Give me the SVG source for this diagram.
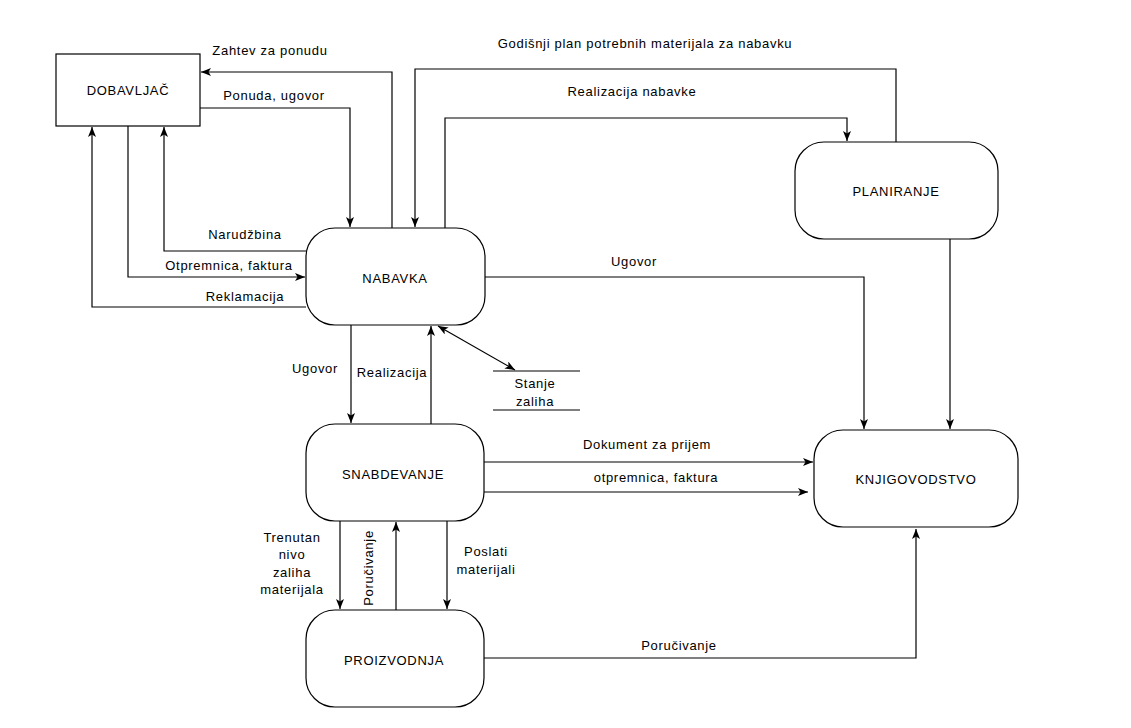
<svg xmlns="http://www.w3.org/2000/svg" width="1131" height="728" viewBox="0 0 1131 728">
  <style>
    .box { fill: #ffffff; stroke: #000000; stroke-width: 1.2; }
    .edge { fill: none; stroke: #000000; stroke-width: 1.2; }
    .arr { marker-end: url(#head); }
    text { font-family: "Liberation Sans", Arial, sans-serif; font-size: 13px; letter-spacing: 0.7px; fill: #000000; text-anchor: middle; }
  </style>
  <defs>
    <marker id="head" viewBox="0 0 10 8" refX="10" refY="4" markerWidth="10" markerHeight="8" markerUnits="userSpaceOnUse" orient="auto-start-reverse">
      <path d="M0,0 L10,4 L0,8 L2.5,4 z" fill="#000000"/>
    </marker>
  </defs>

  <rect width="1131" height="728" fill="#ffffff"/>

  <!-- connectors -->
  <g id="connectors">
    <!-- NABAVKA -> DOBAVLJAČ : Zahtev za ponudu -->
    <polyline class="edge arr" points="392,228 392,72 201,72"/>
    <!-- DOBAVLJAČ -> NABAVKA : Ponuda, ugovor -->
    <polyline class="edge arr" points="200,108 350,108 350,227"/>
    <!-- NABAVKA -> DOBAVLJAČ : Narudžbina -->
    <polyline class="edge arr" points="306,251 164,251 164,127"/>
    <!-- DOBAVLJAČ -> NABAVKA : Otpremnica, faktura -->
    <polyline class="edge arr" points="128,126 128,277 305,277"/>
    <!-- NABAVKA -> DOBAVLJAČ : Reklamacija -->
    <polyline class="edge arr" points="306,307 92,307 92,127"/>
    <!-- PLANIRANJE -> NABAVKA : Godišnji plan -->
    <polyline class="edge arr" points="896,142 896,69 415,69 415,227"/>
    <!-- NABAVKA -> PLANIRANJE : Realizacija nabavke -->
    <polyline class="edge arr" points="445,228 445,118 847,118 847,141"/>
    <!-- NABAVKA -> KNJIGOVODSTVO : Ugovor -->
    <polyline class="edge arr" points="485,277 864,277 864,429"/>
    <!-- PLANIRANJE -> KNJIGOVODSTVO -->
    <polyline class="edge arr" points="950,239 950,429"/>
    <!-- NABAVKA -> SNABDEVANJE : Ugovor -->
    <polyline class="edge arr" points="351,325 351,423"/>
    <!-- SNABDEVANJE -> NABAVKA : Realizacija -->
    <polyline class="edge arr" points="431,424 431,326"/>
    <!-- NABAVKA <-> Stanje zaliha -->
    <line class="edge arr" x1="438" y1="326" x2="515" y2="370" marker-start="url(#head)"/>
    <!-- SNABDEVANJE -> KNJIGOVODSTVO -->
    <polyline class="edge arr" points="484,462 813,462"/>
    <polyline class="edge arr" points="484,492 808,492"/>
    <!-- SNABDEVANJE <-> PROIZVODNJA -->
    <polyline class="edge arr" points="340,521 340,609"/>
    <polyline class="edge arr" points="396,610 396,522"/>
    <polyline class="edge arr" points="447,521 447,609"/>
    <!-- PROIZVODNJA -> KNJIGOVODSTVO : Poručivanje -->
    <polyline class="edge arr" points="484,658 916,658 916,529"/>
  </g>

  <!-- connector labels -->
  <g id="labels">
    <text x="270" y="55">Zahtev za ponudu</text>
    <text x="274" y="100">Ponuda, ugovor</text>
    <text x="645" y="48">Godišnji plan potrebnih materijala za nabavku</text>
    <text x="632" y="96">Realizacija nabavke</text>
    <text x="245" y="239">Narudžbina</text>
    <text x="229" y="270">Otpremnica, faktura</text>
    <text x="245" y="301">Reklamacija</text>
    <text x="634" y="266">Ugovor</text>
    <text x="315" y="373">Ugovor</text>
    <text x="392" y="377">Realizacija</text>
    <text x="647" y="449">Dokument za prijem</text>
    <text x="656" y="482">otpremnica, faktura</text>
    <text x="292" y="542">Trenutan</text>
    <text x="292" y="559">nivo</text>
    <text x="292" y="577">zaliha</text>
    <text x="292" y="594">materijala</text>
    <text x="0" y="0" transform="translate(372.5,568) rotate(-90)">Poručivanje</text>
    <text x="486" y="556">Poslati</text>
    <text x="486" y="574">materijali</text>
    <text x="679" y="650">Poručivanje</text>
  </g>

  <!-- data store -->
  <g id="stanje-zaliha">
    <line class="edge" x1="493" y1="371" x2="580" y2="371"/>
    <line class="edge" x1="493" y1="410" x2="580" y2="410"/>
    <text x="535" y="388">Stanje</text>
    <text x="535" y="406">zaliha</text>
  </g>

  <!-- nodes -->
  <g id="dobavljac">
    <rect class="box" x="56" y="54" width="144" height="72"/>
    <text x="128" y="95">DOBAVLJAČ</text>
  </g>
  <g id="nabavka">
    <rect class="box" x="306" y="228" width="179" height="97" rx="29" ry="29"/>
    <text x="395" y="283">NABAVKA</text>
  </g>
  <g id="planiranje">
    <rect class="box" x="795" y="142" width="203" height="97" rx="29" ry="29"/>
    <text x="896" y="196">PLANIRANJE</text>
  </g>
  <g id="snabdevanje">
    <rect class="box" x="306" y="424" width="178" height="97" rx="29" ry="29"/>
    <text x="393" y="479">SNABDEVANJE</text>
  </g>
  <g id="knjigovodstvo">
    <rect class="box" x="814" y="430" width="204" height="97" rx="29" ry="29"/>
    <text x="916" y="484">KNJIGOVODSTVO</text>
  </g>
  <g id="proizvodnja">
    <rect class="box" x="306" y="610" width="178" height="97" rx="29" ry="29"/>
    <text x="394" y="665">PROIZVODNJA</text>
  </g>
</svg>
